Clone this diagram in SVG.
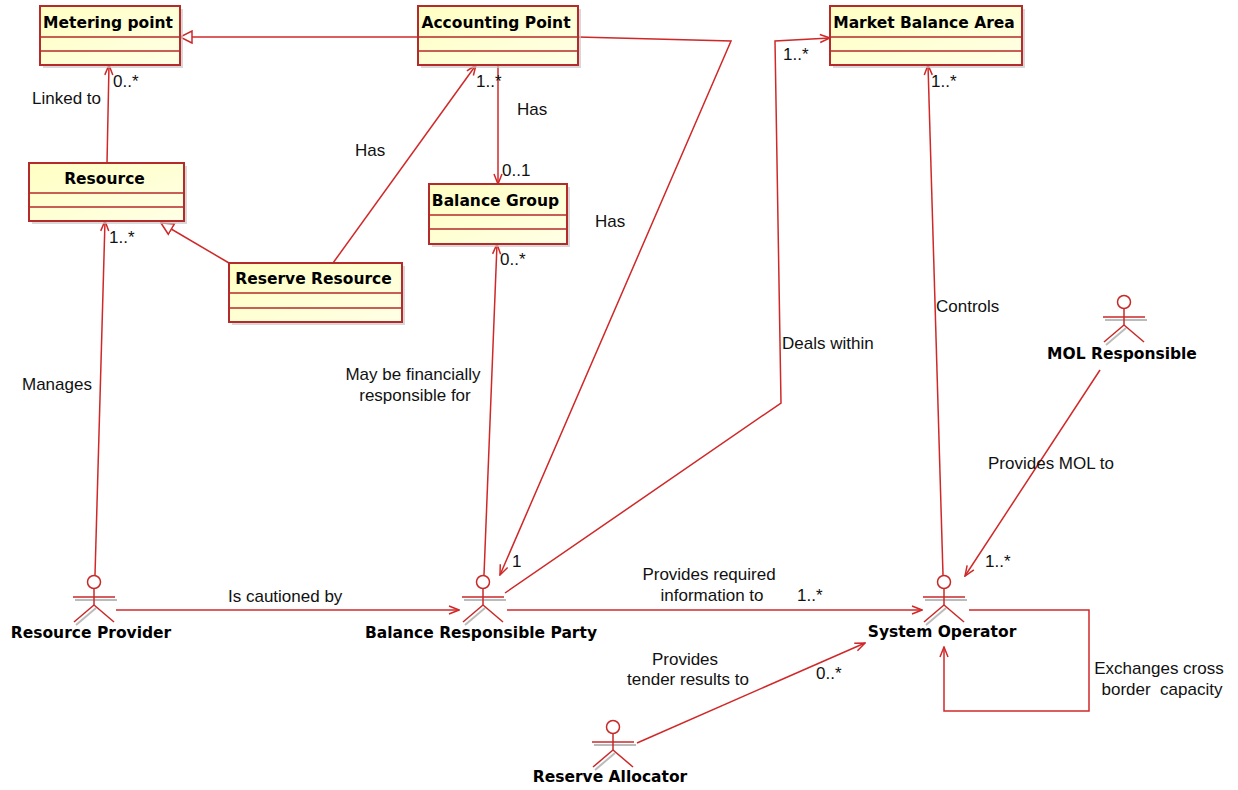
<svg xmlns="http://www.w3.org/2000/svg" xmlns:xlink="http://www.w3.org/1999/xlink" width="1238" height="790" viewBox="0 0 1238 790">
<style>
.box{fill:url(#yfill);stroke:#B52A2A;stroke-width:2}
.shadow{fill:#C8C8C8;opacity:0.7}
.div{stroke:#B52A2A;stroke-width:1.6}
.title{font-family:"DejaVu Sans",sans-serif;font-weight:bold;font-size:15.5px;fill:#000;text-anchor:middle}
.alabel{font-family:"DejaVu Sans",sans-serif;font-weight:bold;font-size:15.5px;fill:#000;text-anchor:middle}
.lbl{font-family:"Liberation Sans",Arial,sans-serif;font-size:17px;fill:#111;white-space:pre}
.mid{text-anchor:middle}
.con{fill:none;stroke:#D02828;stroke-width:1.5}
.act{fill:none;stroke:#C82828;stroke-width:1.5}
.actsh{fill:none;stroke:#BBBBBB;stroke-width:2}
</style>
<defs>
<linearGradient id="yfill" x1="0" y1="0" x2="1" y2="1">
<stop offset="0" stop-color="#FFFFC2"/>
<stop offset="1" stop-color="#FFFFE6"/>
</linearGradient>
<marker id="open" viewBox="0 0 12 10" refX="11" refY="5" markerWidth="12" markerHeight="10" markerUnits="userSpaceOnUse" orient="auto">
<path d="M1,1 L11,5 L1,9" fill="none" stroke="#D02828" stroke-width="1.5"/>
</marker>
<marker id="gen" viewBox="0 0 14 14" refX="13" refY="7" markerWidth="14" markerHeight="14" markerUnits="userSpaceOnUse" orient="auto">
<path d="M1,1 L13,7 L1,13 Z" fill="#FFFFFF" stroke="#D02828" stroke-width="1.5"/>
</marker>
<g id="actor">
<g class="actsh">
<line x1="-19" y1="18" x2="23" y2="18"/>
<line x1="2" y1="26" x2="-18" y2="43"/>
</g>
<circle cx="0" cy="0" r="6.5" fill="#FFFFFF" stroke="#C82828" stroke-width="1.5"/>
<g class="act">
<line x1="0" y1="6.5" x2="0" y2="23"/>
<line x1="-21" y1="15" x2="21" y2="15"/>
<line x1="0" y1="23" x2="-20" y2="40"/>
<line x1="0" y1="23" x2="20" y2="40"/>
</g>
</g>
</defs>
<rect width="1238" height="790" fill="#FFFFFF"/>

<g id="connectors">
<line class="con" x1="418" y1="37" x2="180" y2="37" marker-end="url(#gen)"/>
<line class="con" x1="107" y1="163" x2="109" y2="65" marker-end="url(#open)"/>
<line class="con" x1="229" y1="263" x2="161" y2="223" marker-end="url(#gen)"/>
<line class="con" x1="333" y1="263" x2="476" y2="65" marker-end="url(#open)"/>
<line class="con" x1="498" y1="65" x2="498" y2="184" marker-end="url(#open)"/>
<polyline class="con" points="578,37 731,41 500,575" marker-end="url(#open)"/>
<line class="con" x1="484" y1="575" x2="497" y2="244" marker-end="url(#open)"/>
<polyline class="con" points="505,593 781,403 775,41 830,38" marker-end="url(#open)"/>
<line class="con" x1="943" y1="575" x2="928" y2="65" marker-end="url(#open)"/>
<line class="con" x1="1100" y1="370" x2="965" y2="576" marker-end="url(#open)"/>
<line class="con" x1="95" y1="575" x2="105" y2="221" marker-end="url(#open)"/>
<line class="con" x1="116" y1="610" x2="459" y2="610" marker-end="url(#open)"/>
<line class="con" x1="507" y1="610" x2="922" y2="610" marker-end="url(#open)"/>
<line class="con" x1="637" y1="743" x2="865" y2="643" marker-end="url(#open)"/>
<polyline class="con" points="969,610 1089,610 1089,711 944,711 944,647" marker-end="url(#open)"/>

<text class="lbl" x="32" y="104">Linked to</text>
<text class="lbl" x="113" y="87">0..*</text>
<text class="lbl" x="355" y="156">Has</text>
<text class="lbl" x="109" y="243">1..*</text>
<text class="lbl" x="22" y="390">Manages</text>
<text class="lbl" x="476" y="87">1..*</text>
<text class="lbl" x="517" y="115">Has</text>
<text class="lbl" x="502" y="176">0..1</text>
<text class="lbl" x="595" y="227">Has</text>
<text class="lbl" x="500" y="265">0..*</text>
<text class="lbl" x="783" y="60">1..*</text>
<text class="lbl" x="931" y="87">1..*</text>
<text class="lbl" x="936" y="312">Controls</text>
<text class="lbl" x="782" y="349">Deals within</text>
<text class="lbl mid" x="413" y="380">May be financially</text>
<text class="lbl mid" x="415" y="401">responsible for</text>
<text class="lbl" x="988" y="469">Provides MOL to</text>
<text class="lbl" x="985" y="567">1..*</text>
<text class="lbl" x="512" y="567">1</text>
<text class="lbl" x="228" y="602">Is cautioned by</text>
<text class="lbl mid" x="709" y="580">Provides required</text>
<text class="lbl mid" x="712" y="601">information to</text>
<text class="lbl" x="797" y="601">1..*</text>
<text class="lbl mid" x="685" y="665">Provides</text>
<text class="lbl mid" x="688" y="685">tender results to</text>
<text class="lbl" x="816" y="679">0..*</text>
<text class="lbl mid" x="1159" y="674">Exchanges cross</text>
<text class="lbl mid" x="1162" y="695">border  capacity</text>
</g>

<g id="metering-point">
<rect class="shadow" x="43" y="9" width="140" height="59"/>
<rect class="box" x="40" y="6" width="140" height="59"/>
<line class="div" x1="40" y1="37" x2="180" y2="37"/>
<line class="div" x1="40" y1="51" x2="180" y2="51"/>
<text class="title" x="108" y="28">Metering point</text>
</g>

<g id="accounting-point">
<rect class="shadow" x="421" y="9" width="160" height="59"/>
<rect class="box" x="418" y="6" width="160" height="59"/>
<line class="div" x1="418" y1="37" x2="578" y2="37"/>
<line class="div" x1="418" y1="51" x2="578" y2="51"/>
<text class="title" x="496" y="28">Accounting Point</text>
</g>

<g id="market-balance-area">
<rect class="shadow" x="833" y="9" width="192" height="59"/>
<rect class="box" x="830" y="6" width="192" height="59"/>
<line class="div" x1="830" y1="37" x2="1022" y2="37"/>
<line class="div" x1="830" y1="51" x2="1022" y2="51"/>
<text class="title" x="924" y="28">Market Balance Area</text>
</g>

<g id="resource">
<rect class="shadow" x="32" y="166" width="155" height="58"/>
<rect class="box" x="29" y="163" width="155" height="58"/>
<line class="div" x1="29" y1="193" x2="184" y2="193"/>
<line class="div" x1="29" y1="207" x2="184" y2="207"/>
<text class="title" x="104.5" y="184">Resource</text>
</g>

<g id="balance-group">
<rect class="shadow" x="432" y="187" width="138" height="60"/>
<rect class="box" x="429" y="184" width="138" height="60"/>
<line class="div" x1="429" y1="215" x2="567" y2="215"/>
<line class="div" x1="429" y1="229" x2="567" y2="229"/>
<text class="title" x="495.5" y="206">Balance Group</text>
</g>

<g id="reserve-resource">
<rect class="shadow" x="232" y="266" width="173" height="59"/>
<rect class="box" x="229" y="263" width="173" height="59"/>
<line class="div" x1="229" y1="293" x2="402" y2="293"/>
<line class="div" x1="229" y1="308" x2="402" y2="308"/>
<text class="title" x="313.5" y="284">Reserve Resource</text>
</g>

<g id="resource-provider">
<use xlink:href="#actor" x="94" y="582"/>
<text class="alabel" x="91" y="638">Resource Provider</text>
</g>

<g id="balance-responsible-party">
<use xlink:href="#actor" x="483" y="582"/>
<text class="alabel" x="481" y="638">Balance Responsible Party</text>
</g>

<g id="system-operator">
<use xlink:href="#actor" x="944" y="582"/>
<text class="alabel" x="942" y="637">System Operator</text>
</g>

<g id="mol-responsible">
<use xlink:href="#actor" x="1124" y="302"/>
<text class="alabel" x="1122" y="359">MOL Responsible</text>
</g>

<g id="reserve-allocator">
<use xlink:href="#actor" x="613" y="727"/>
<text class="alabel" x="610" y="782">Reserve Allocator</text>
</g>
</svg>
